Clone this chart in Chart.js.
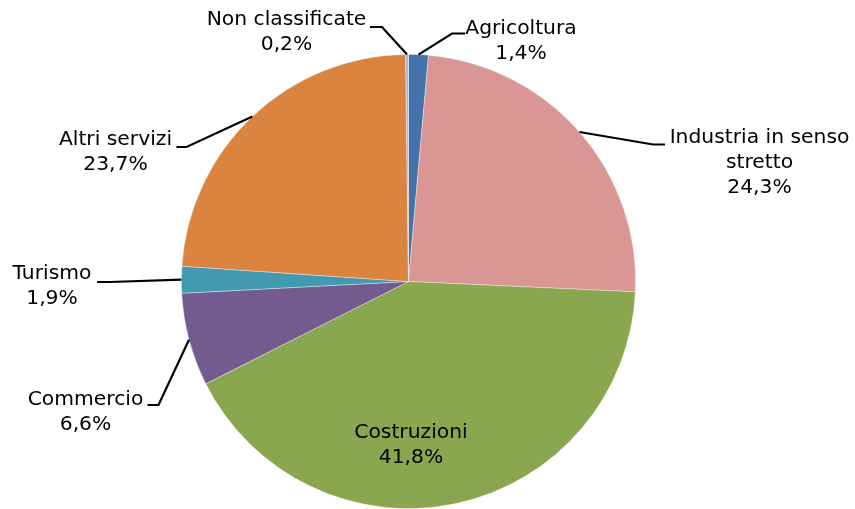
<!DOCTYPE html>
<html>
<head>
<meta charset="utf-8">
<script src="https://cdn.jsdelivr.net/npm/chart.js@4/dist/chart.umd.min.js"></script>
<style>
html,body{margin:0;padding:0;background:#fff;overflow:hidden;}
#wrap{width:855px;height:509px;position:relative;}
</style>
</head>
<body>
<div id="wrap"><canvas id="c"></canvas></div>
<script>
const categories = ["Agricoltura", "Industria in senso stretto", "Costruzioni", "Commercio", "Turismo", "Altri servizi", "Non classificate"];
const labelLines = [["Agricoltura"], ["Industria in senso", "stretto"], ["Costruzioni"], ["Commercio"], ["Turismo"], ["Altri servizi"], ["Non classificate"]];
const shares = [1.4, 24.3, 41.8, 6.6, 1.9, 23.7, 0.2];
const colors = ["#4572A8", "#D99694", "#8AA64F", "#735A8F", "#4399AF", "#DA8440", "#A6B9D8"];

// annotation layout (label block centre, leader elbow and end); null leader = label inside slice
const labelLayout = [
  {x: 521, y: 29, elbow: [452, 33.5], end: [465, 33.5]},
  {x: 759.5, y: 137.5, elbow: [653, 144.5], end: [665, 144.5]},
  {x: 411, y: 433, elbow: null, end: null},
  {x: 85.5, y: 400, elbow: [158.5, 405], end: [147.5, 405]},
  {x: 52, y: 274, elbow: [110, 282], end: [97, 282]},
  {x: 115.5, y: 140, elbow: [186.5, 147], end: [176.5, 147]},
  {x: 286.5, y: 20, elbow: [382, 27], end: [370, 27]}
];

const fmt = v => v.toFixed(1).replace('.', ',') + '%';

const labelPlugin = {
  id: 'pieLabels',
  afterDatasetsDraw(chart) {
    const ctx = chart.ctx;
    const meta = chart.getDatasetMeta(0);
    ctx.save();
    meta.data.forEach((arc, i) => {
      const L = labelLayout[i];
      const mid = (arc.startAngle + arc.endAngle) / 2;
      if (L.elbow) {
        const sx = arc.x + Math.cos(mid) * arc.outerRadius;
        const sy = arc.y + Math.sin(mid) * arc.outerRadius;
        ctx.beginPath();
        ctx.strokeStyle = '#000';
        ctx.lineWidth = 2.2;
        ctx.lineJoin = 'miter';
        ctx.moveTo(sx, sy);
        ctx.lineTo(L.elbow[0], L.elbow[1]);
        ctx.lineTo(L.end[0], L.end[1]);
        ctx.stroke();
      }
      ctx.fillStyle = '#000';
      ctx.font = '20.3px "DejaVu Sans"';
      ctx.textAlign = 'center';
      ctx.textBaseline = 'middle';
      const lines = labelLines[i].concat([fmt(shares[i])]);
      lines.forEach((t, k) => ctx.fillText(t, L.x, L.y + k * 25));
    });
    ctx.restore();
  }
};

new Chart(document.getElementById('c'), {
  type: 'pie',
  data: {
    labels: categories,
    datasets: [{
      data: shares,
      backgroundColor: colors,
      borderColor: 'rgba(255,255,255,0.45)',
      borderWidth: 0.8
    }]
  },
  options: {
    responsive: true,
    maintainAspectRatio: false,
    animation: false,
    layout: {padding: {top: 54, bottom: -2, left: 180, right: 218}},
    plugins: {legend: {display: false}, tooltip: {enabled: false}}
  },
  plugins: [labelPlugin]
});
</script>
</body>
</html>
